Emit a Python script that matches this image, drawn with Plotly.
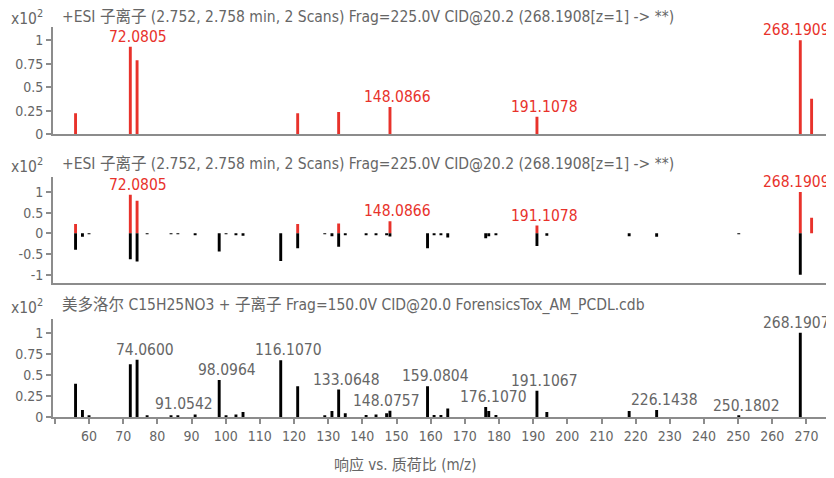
import plotly.graph_objects as go

# ---------------- data ----------------
# acquired spectrum (red)
acq_mz = [56.05, 72.0805, 74.06, 121.07, 133.06, 148.0866, 191.1078, 268.1909, 271.5]
acq_int = [0.223, 0.932, 0.787, 0.223, 0.237, 0.29, 0.187, 1.0, 0.379]
acq_labels = ["72.0805", "148.0866", "191.1078", "268.1909"]

# library spectrum (black)
lib_mz = [56.05, 58.07, 60.0, 72.08, 74.06, 77.0, 84.0, 86.0, 91.0542, 98.0964,
          100.1, 103.0, 105.07, 116.107, 121.07, 129.0, 131.1, 133.0648, 135.0,
          141.1, 144.0, 147.1, 148.0757, 159.0804, 161.0, 163.0, 165.0, 176.107,
          177.0, 179.1, 191.1067, 194.0, 218.1, 226.1438, 250.1802, 268.1907]
lib_int = [0.395, 0.083, 0.02, 0.625, 0.68, 0.02, 0.02, 0.02, 0.03, 0.44,
           0.02, 0.03, 0.06, 0.672, 0.364, 0.02, 0.07, 0.325, 0.045,
           0.025, 0.03, 0.045, 0.075, 0.364, 0.025, 0.025, 0.1, 0.12,
           0.07, 0.025, 0.31, 0.06, 0.07, 0.083, 0.015, 1.0]
lib_labels = ["74.0600", "91.0542", "98.0964", "116.1070", "133.0648", "148.0757",
              "159.0804", "176.1070", "191.1067", "226.1438", "250.1802", "268.1907"]

x_ticks = [50, 60, 70, 80, 90, 100, 110, 120, 130, 140, 150, 160, 170, 180, 190,
           200, 210, 220, 230, 240, 250, 260, 270]
y_ticks_pos = [0, 0.25, 0.5, 0.75, 1]
y_ticks_mirror = [-1, -0.5, 0, 0.5, 1]

title_top = "+ESI 子离子 (2.752, 2.758 min, 2 Scans) Frag=225.0V CID@20.2 (268.1908[z=1] -> **)"
title_bottom = "美多洛尔 C15H25NO3 + 子离子 Frag=150.0V CID@20.0 ForensicsTox_AM_PCDL.cdb"
x_title = "响应 vs. 质荷比 (m/z)"

# ---------------- style ----------------
RED = "#e8322b"
BLACK = "#000000"
GRAY = "#666666"
AXIS = "#8c8c8c"
FONT = "Liberation Sans Narrow, DejaVu Sans Condensed, Roboto, Noto Sans CJK SC, sans-serif"

OFF = 8                     # page body margin
W, H = 834 - OFF, 478 - OFF
ML, MR, MT, MB = 45, 6, 19, 61
PW = W - ML - MR
PH = H - MT - MB


def py(ypx):
    """screen y pixel -> paper fraction"""
    return (H - MB - (ypx - OFF)) / PH


def px(xpx):
    """screen x pixel -> paper fraction"""
    return (xpx - OFF - ML) / PW


XR = [49.45, 276.3]
BW = 0.85

fig = go.Figure()
fig.add_trace(go.Bar(x=acq_mz, y=acq_int, width=BW, marker=dict(color=RED, line_width=0),
                     xaxis="x", yaxis="y", showlegend=False))
fig.add_trace(go.Bar(x=acq_mz, y=acq_int, width=BW, marker=dict(color=RED, line_width=0),
                     xaxis="x2", yaxis="y2", showlegend=False))
fig.add_trace(go.Bar(x=lib_mz, y=[-v for v in lib_int], width=BW,
                     marker=dict(color=BLACK, line_width=0),
                     xaxis="x2", yaxis="y2", showlegend=False))
fig.add_trace(go.Bar(x=lib_mz, y=lib_int, width=BW, marker=dict(color=BLACK, line_width=0),
                     xaxis="x3", yaxis="y3", showlegend=False))

TICKF = dict(family=FONT, size=14, color=GRAY)
common_y = dict(showline=True, linecolor=AXIS, linewidth=2, ticks="outside", ticklen=5,
                tickcolor=AXIS, tickwidth=1.5, showgrid=False, zeroline=False,
                tickfont=TICKF)
common_x = dict(range=XR, showline=True, linecolor=AXIS, linewidth=2, showgrid=False,
                zeroline=False)

fig.update_layout(
    width=W, height=H,
    margin=dict(l=ML, r=MR, t=MT, b=MB),
    paper_bgcolor="white", plot_bgcolor="white",
    barmode="overlay",
    font=dict(family=FONT, color=GRAY),
    xaxis=dict(**common_x, domain=[0, 1], anchor="y", showticklabels=False, ticks=""),
    yaxis=dict(**common_y, domain=[py(134.3), 1.0], range=[0, 1.141],
               tickvals=y_ticks_pos, ticktext=[f"{v:g}" for v in y_ticks_pos]),
    xaxis2=dict(**common_x, domain=[0, 1], anchor="y2", showticklabels=False, ticks=""),
    yaxis2=dict(**common_y, domain=[py(283.3), py(177.3)], range=[-1.21, 1.356],
                tickvals=y_ticks_mirror, ticktext=[f"{v:g}" for v in y_ticks_mirror]),
    xaxis3=dict(**common_x, domain=[0, 1], anchor="y3", ticks="outside", ticklen=5,
                tickcolor=AXIS, tickwidth=1.5,
                tickvals=x_ticks, ticktext=["" if v == 50 else str(v) for v in x_ticks],
                tickfont=TICKF),
    yaxis3=dict(**common_y, domain=[0, py(319.3)], range=[0, 1.159],
                tickvals=y_ticks_pos, ticktext=[f"{v:g}" for v in y_ticks_pos]),
)

ann = []
# panel titles and scale labels
for title, ypx in [(title_top, 16.5), (title_top, 164), (title_bottom, 305)]:
    ann.append(dict(text=title, xref="paper", yref="paper", x=px(60), y=py(ypx),
                    xanchor="left", yanchor="middle", showarrow=False,
                    font=dict(family=FONT, size=15.5, color=GRAY)))
    ann.append(dict(text="x10<sup>2</sup>", xref="paper", yref="paper", x=px(9), y=py(ypx + 1),
                    xanchor="left", yanchor="middle", showarrow=False,
                    font=dict(family=FONT, size=15.5, color=GRAY)))

# peak labels, acquired spectrum (top and middle)
acq_shift = {"268.1909": -4}
for lab in acq_labels:
    v = float(lab)
    i = min(range(len(acq_mz)), key=lambda k: abs(acq_mz[k] - v))
    for xr, yr in [("x", "y"), ("x2", "y2")]:
        ann.append(dict(text=lab, xref=xr, yref=yr, x=acq_mz[i], y=acq_int[i],
                        xanchor="center", yanchor="bottom", showarrow=False,
                        xshift=acq_shift.get(lab, 8), yshift=-1,
                        font=dict(family=FONT, size=15.5, color=RED)))

# peak labels, library spectrum (bottom)
lib_shift = {"91.0542": -11, "148.0757": -3, "268.1907": -4}
for lab in lib_labels:
    v = float(lab)
    i = min(range(len(lib_mz)), key=lambda k: abs(lib_mz[k] - v))
    ann.append(dict(text=lab, xref="x3", yref="y3", x=lib_mz[i], y=lib_int[i],
                    xanchor="center", yanchor="bottom", showarrow=False,
                    xshift=lib_shift.get(lab, 8), yshift=-1,
                    font=dict(family=FONT, size=15.5, color=GRAY)))

ann.append(dict(text=x_title, xref="paper", yref="paper", x=px(405), y=py(465),
                xanchor="center", yanchor="middle", showarrow=False,
                font=dict(family=FONT, size=15, color=GRAY)))

fig.update_layout(annotations=ann)
fig.write_html("out.html")
